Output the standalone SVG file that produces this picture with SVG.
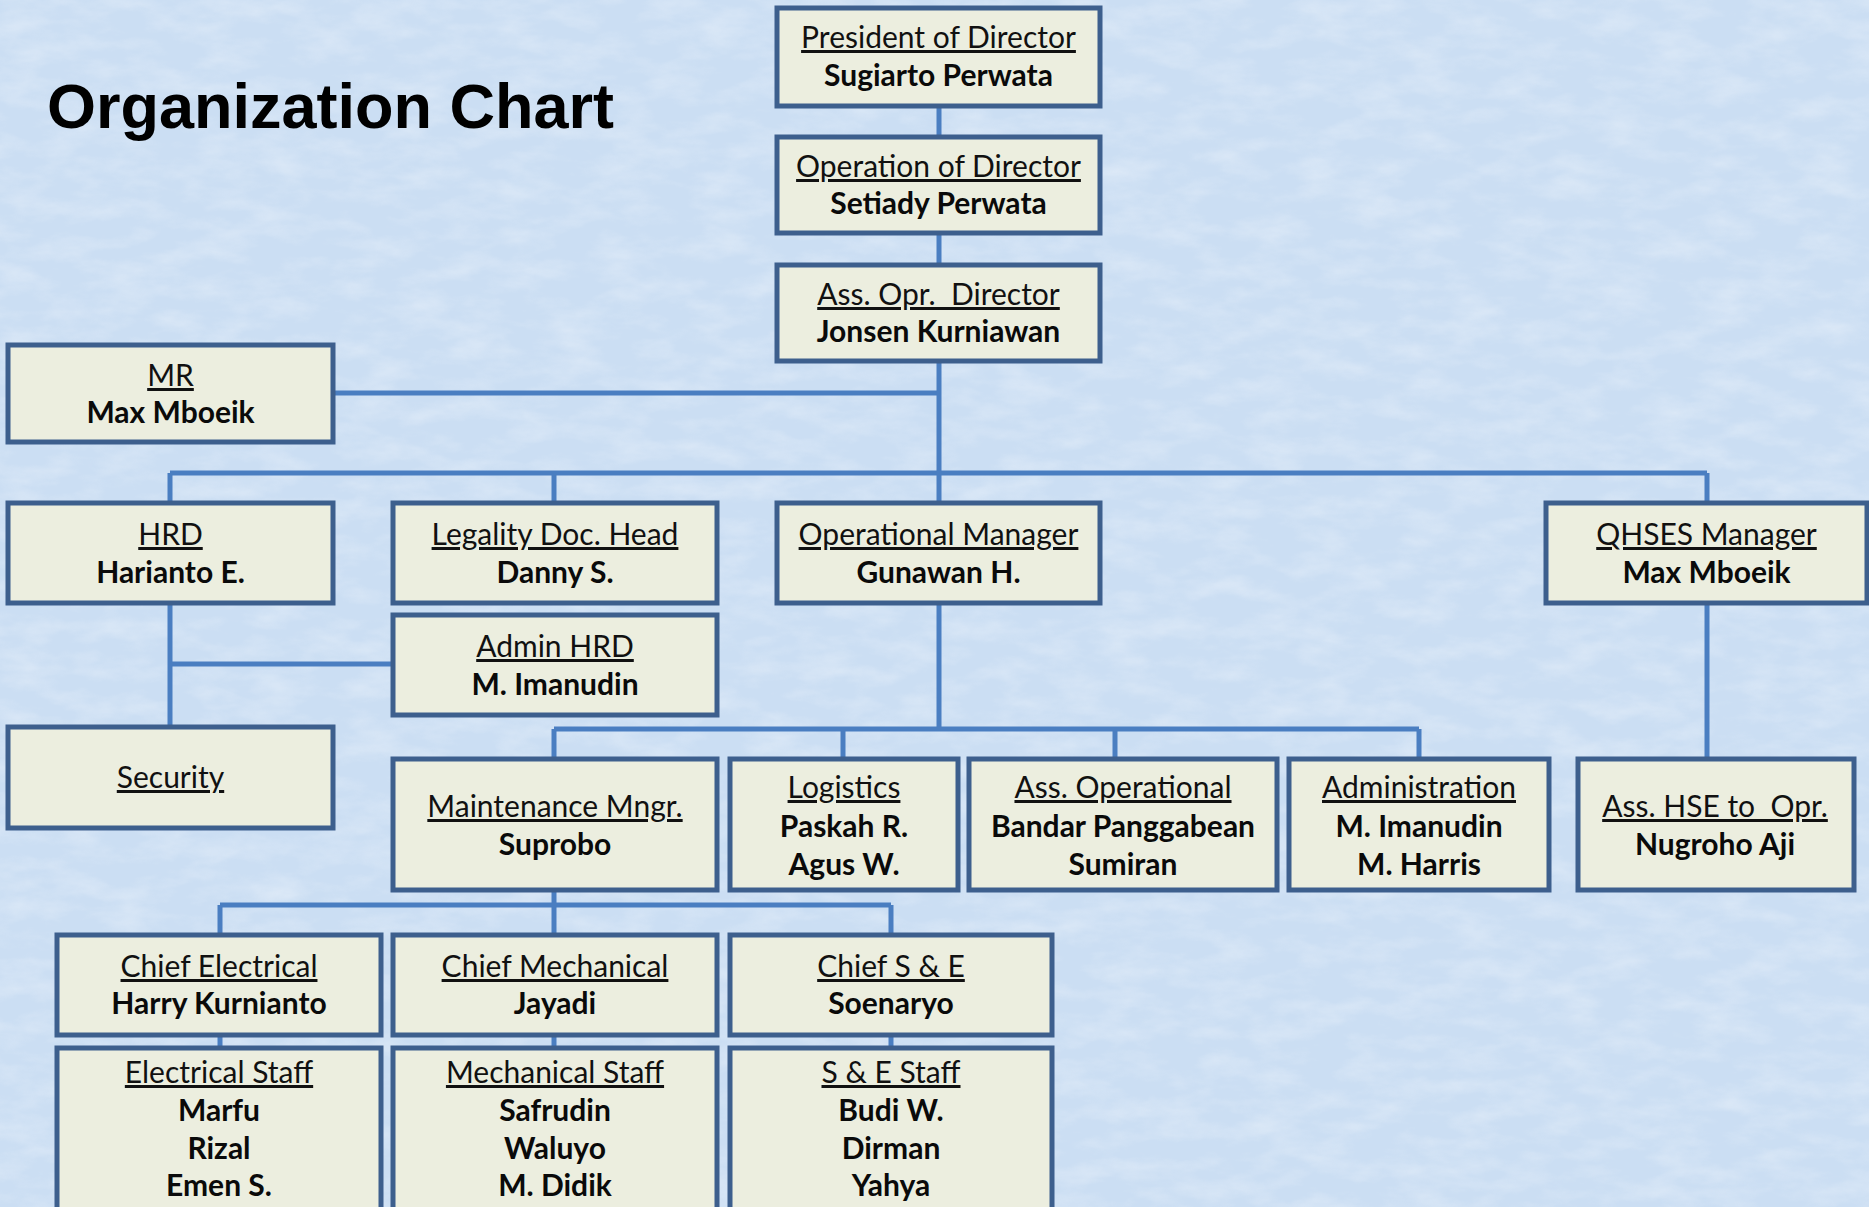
<svg xmlns="http://www.w3.org/2000/svg" width="1869" height="1207" viewBox="0 0 1869 1207">
<style>
.box{fill:#eceedf;stroke:#3d5f8d;stroke-width:5}
.t{font-family:Lato,"Open Sans","Liberation Sans",sans-serif;font-size:30px;fill:#111;text-anchor:middle;text-decoration:underline}
.n{font-family:Lato,"Open Sans","Liberation Sans",sans-serif;font-size:30px;font-weight:bold;fill:#0a0a0a;text-anchor:middle}
.c{fill:none;stroke:#4a7ec1;stroke-width:5}
.title{font-family:"Liberation Sans",Arial,sans-serif;font-size:63px;font-weight:bold;fill:#000}
</style>
<defs>
<filter id="tex" x="0" y="0" width="100%" height="100%">
<feTurbulence type="fractalNoise" baseFrequency="0.02 0.05" numOctaves="4" seed="3"/>
<feColorMatrix type="matrix" values="0 0 0 0 1  0 0 0 0 1  0 0 0 0 1  0 0 0 0.9 -0.35"/>
</filter>
</defs>
<rect width="1869" height="1207" fill="#cbdef3"/>
<rect width="1869" height="1207" filter="url(#tex)" opacity="0.6"/>
<text class="title" x="47" y="128">Organization Chart</text>
<g id="connectors">
<path class="c" d="M939 106V137M939 233V265M939 361V503M333 393H939M170 473H1707M170 473V503M554 473V503M1707 473V503"/>
<path class="c" d="M170 603V727M170 664H393"/>
<path class="c" d="M939 603V729M554 729H1419M554 729V759M843 729V759M1115 729V759M1419 729V759"/>
<path class="c" d="M1707 603V759"/>
<path class="c" d="M554 890V905M220 905H891M220 905V935M554 905V935M891 905V935"/>
<path class="c" d="M220 1035V1048M554 1035V1048M891 1035V1048"/>
</g>
<g id="president"><rect class="box" x="777" y="8" width="323" height="98"/><text class="t" x="938.5" y="48">President of Director</text><text class="n" x="938.5" y="86">Sugiarto Perwata</text></g>
<g id="operation-director"><rect class="box" x="777" y="137" width="323" height="96"/><text class="t" x="938.5" y="177">Operation of Director</text><text class="n" x="938.5" y="214">Setiady Perwata</text></g>
<g id="ass-opr-director"><rect class="box" x="777" y="265" width="323" height="96"/><text class="t" x="938.5" y="305" xml:space="preserve">Ass. Opr.  Director</text><text class="n" x="938.5" y="342">Jonsen Kurniawan</text></g>
<g id="mr"><rect class="box" x="8" y="345" width="325" height="97"/><text class="t" x="170.5" y="386">MR</text><text class="n" x="170.5" y="423">Max Mboeik</text></g>
<g id="hrd"><rect class="box" x="8" y="503" width="325" height="100"/><text class="t" x="170.5" y="545">HRD</text><text class="n" x="170.5" y="583">Harianto E.</text></g>
<g id="legality"><rect class="box" x="393" y="503" width="324" height="100"/><text class="t" x="555" y="545">Legality Doc. Head</text><text class="n" x="555" y="583">Danny S.</text></g>
<g id="operational-manager"><rect class="box" x="777" y="503" width="323" height="100"/><text class="t" x="938.5" y="545">Operational Manager</text><text class="n" x="938.5" y="583">Gunawan H.</text></g>
<g id="qhses"><rect class="box" x="1546" y="503" width="321" height="100"/><text class="t" x="1706.5" y="545">QHSES Manager</text><text class="n" x="1706.5" y="583">Max Mboeik</text></g>
<g id="admin-hrd"><rect class="box" x="393" y="615" width="324" height="100"/><text class="t" x="555" y="657">Admin HRD</text><text class="n" x="555" y="695">M. Imanudin</text></g>
<g id="security"><rect class="box" x="8" y="727" width="325" height="101"/><text class="t" x="170.5" y="788">Security</text></g>
<g id="maintenance"><rect class="box" x="393" y="759" width="324" height="131"/><text class="t" x="555" y="817">Maintenance Mngr.</text><text class="n" x="555" y="855">Suprobo</text></g>
<g id="logistics"><rect class="box" x="730" y="759" width="228" height="131"/><text class="t" x="844" y="798">Logistics</text><text class="n" x="844" y="837">Paskah R.</text><text class="n" x="844" y="875">Agus W.</text></g>
<g id="ass-operational"><rect class="box" x="969" y="759" width="308" height="131"/><text class="t" x="1123" y="798">Ass. Operational</text><text class="n" x="1123" y="837">Bandar Panggabean</text><text class="n" x="1123" y="875">Sumiran</text></g>
<g id="administration"><rect class="box" x="1289" y="759" width="260" height="131"/><text class="t" x="1419" y="798">Administration</text><text class="n" x="1419" y="837">M. Imanudin</text><text class="n" x="1419" y="875">M. Harris</text></g>
<g id="ass-hse"><rect class="box" x="1578" y="759" width="276" height="131"/><text class="t" x="1715" y="817" xml:space="preserve">Ass. HSE to  Opr.</text><text class="n" x="1715" y="855">Nugroho Aji</text></g>
<g id="chief-electrical"><rect class="box" x="57" y="935" width="324" height="100"/><text class="t" x="219" y="977">Chief Electrical</text><text class="n" x="219" y="1014">Harry Kurnianto</text></g>
<g id="chief-mechanical"><rect class="box" x="393" y="935" width="324" height="100"/><text class="t" x="555" y="977">Chief Mechanical</text><text class="n" x="555" y="1014">Jayadi</text></g>
<g id="chief-se"><rect class="box" x="730" y="935" width="322" height="100"/><text class="t" x="891" y="977">Chief S &amp; E</text><text class="n" x="891" y="1014">Soenaryo</text></g>
<g id="electrical-staff"><rect class="box" x="57" y="1048" width="324" height="166"/><text class="t" x="219" y="1083">Electrical Staff</text><text class="n" x="219" y="1121">Marfu</text><text class="n" x="219" y="1159">Rizal</text><text class="n" x="219" y="1196">Emen S.</text></g>
<g id="mechanical-staff"><rect class="box" x="393" y="1048" width="324" height="166"/><text class="t" x="555" y="1083">Mechanical Staff</text><text class="n" x="555" y="1121">Safrudin</text><text class="n" x="555" y="1159">Waluyo</text><text class="n" x="555" y="1196">M. Didik</text></g>
<g id="se-staff"><rect class="box" x="730" y="1048" width="322" height="166"/><text class="t" x="891" y="1083">S &amp; E Staff</text><text class="n" x="891" y="1121">Budi W.</text><text class="n" x="891" y="1159">Dirman</text><text class="n" x="891" y="1196">Yahya</text></g>
</svg>
